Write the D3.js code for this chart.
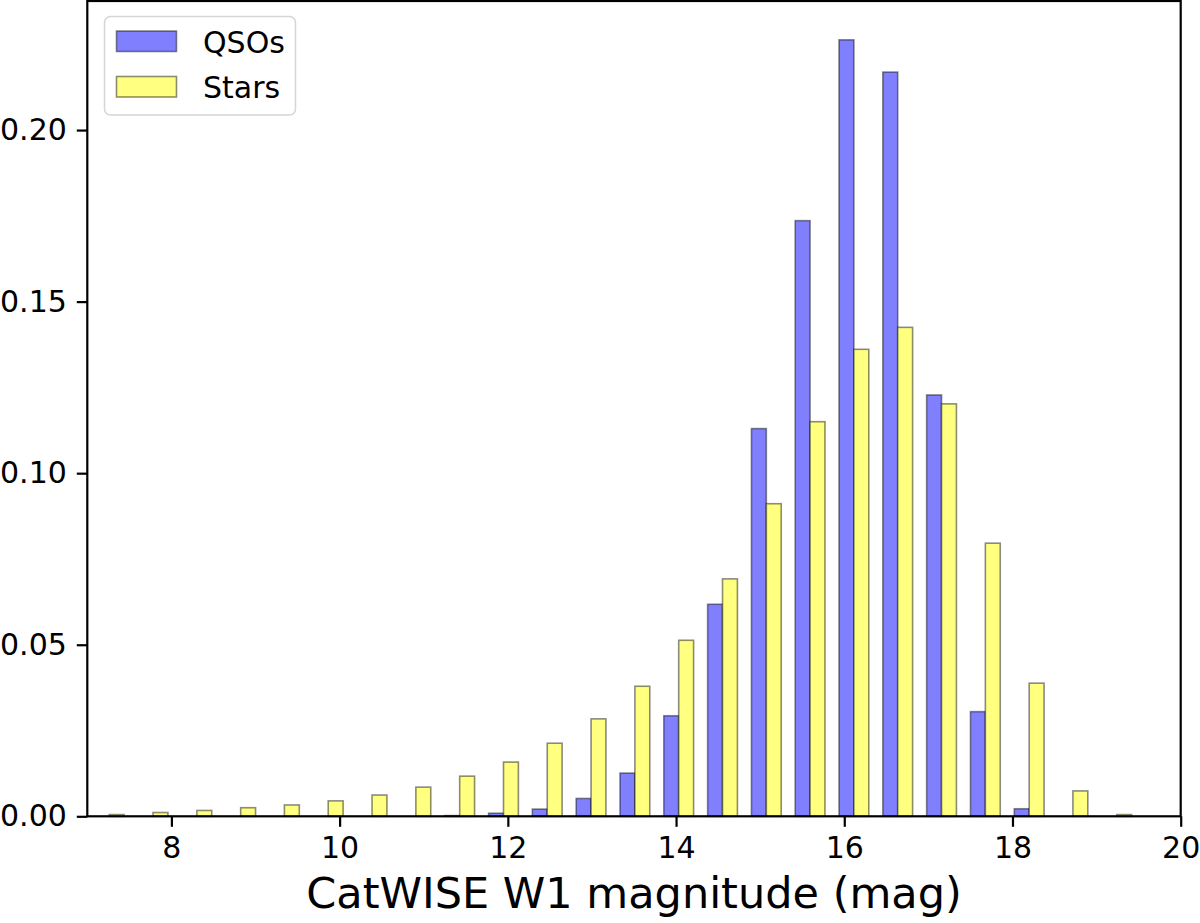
<!DOCTYPE html>
<html>
<head>
<meta charset="utf-8">
<script src="https://cdn.jsdelivr.net/npm/d3@7"></script>
<style>
  html, body { margin: 0; padding: 0; background: #fff; }
  svg { display: block; font-family: "DejaVu Sans", sans-serif; }
</style>
</head>
<body>
<svg id="chart" width="1200" height="923"></svg>
<script>
// Histogram bin left edges (mag)
const binStarts = [7.000, 7.521, 8.042, 8.563, 9.083, 9.604, 10.125, 10.646, 11.167, 11.688, 12.208, 12.729,
                   13.250, 13.771, 14.292, 14.813, 15.333, 15.854, 16.375, 16.896, 17.417, 17.938, 18.458, 18.979];
const binWidth = 0.5208;

// Normalised fractions per bin
const qsoValues = [0, 0, 0, 0, 0, 0, 0, 0, 0.0002, 0.0009, 0.0021, 0.0052,
                   0.0126, 0.0293, 0.0618, 0.1130, 0.1736, 0.2263, 0.2169, 0.1228, 0.0305, 0.0022, 0, 0];
const starValues = [0.0005, 0.0011, 0.0017, 0.0025, 0.0033, 0.0045, 0.0062, 0.0085, 0.0117, 0.0158, 0.0213, 0.0284,
                    0.0379, 0.0513, 0.0692, 0.0911, 0.1150, 0.1361, 0.1425, 0.1202, 0.0796, 0.0388, 0.0074, 0.0005];

const seriesNames = ["QSOs", "Stars"];
const xTicks = [8, 10, 12, 14, 16, 18, 20];
const yTicks = [0.00, 0.05, 0.10, 0.15, 0.20];
const xLabel = "CatWISE W1 magnitude (mag)";

const svg = d3.select("#chart");
const L = 87.3, R = 1180.7, T = 1, B = 816.3;

const x = d3.scaleLinear().domain([7, 20]).range([L, R]);
const yMax = d3.max(qsoValues.concat(starValues)) * 1.05;
const y = d3.scaleLinear().domain([0, yMax]).range([B, T]);

const fills = ["rgb(128,128,255)", "rgb(255,255,128)"];
const edge = "rgba(0,0,0,0.45)";

const bins = binStarts.map((s, i) => ({ s, q: qsoValues[i], st: starValues[i] }));

const g = svg.append("g");
// QSO bars
g.selectAll("rect.q").data(bins).join("rect")
  .attr("class", "q")
  .attr("x", d => x(d.s + 0.16 * binWidth))
  .attr("width", d => x(d.s + 0.5 * binWidth) - x(d.s + 0.16 * binWidth))
  .attr("y", d => y(d.q))
  .attr("height", d => B - y(d.q))
  .attr("fill", fills[0])
  .attr("stroke", edge).attr("stroke-width", 1.6)
  .attr("display", d => d.q > 0 ? null : "none");
// Star bars
g.selectAll("rect.s").data(bins).join("rect")
  .attr("class", "s")
  .attr("x", d => x(d.s + 0.5 * binWidth))
  .attr("width", d => x(d.s + 0.84 * binWidth) - x(d.s + 0.5 * binWidth))
  .attr("y", d => y(d.st))
  .attr("height", d => B - y(d.st))
  .attr("fill", fills[1])
  .attr("stroke", edge).attr("stroke-width", 1.6);

// Axes
const xAxis = d3.axisBottom(x).tickValues(xTicks).tickSize(10.5).tickPadding(10).tickFormat(d3.format("d"));
const yAxis = d3.axisLeft(y).tickValues(yTicks).tickSize(10.5).tickPadding(10).tickFormat(d3.format(".2f"));

const gx = svg.append("g").attr("transform", `translate(0,${B})`).call(xAxis);
const gy = svg.append("g").attr("transform", `translate(${L},0)`).call(yAxis);
[gx, gy].forEach(a => {
  a.select(".domain").remove();
  a.selectAll(".tick line").attr("stroke", "#000").attr("stroke-width", 2.2);
  a.selectAll(".tick text").attr("fill", "#000").attr("font-size", 30)
    .attr("font-family", "DejaVu Sans, sans-serif");
});

// Frame
svg.append("rect").attr("x", L).attr("y", T).attr("width", R - L).attr("height", B - T)
  .attr("fill", "none").attr("stroke", "#000").attr("stroke-width", 2.2);

// X label
svg.append("text").attr("x", (L + R) / 2).attr("y", 908).attr("text-anchor", "middle")
  .attr("font-size", 43).attr("fill", "#000").text(xLabel);

// Legend
const lg = svg.append("g");
lg.append("rect").attr("x", 104.5).attr("y", 16.5).attr("width", 191).attr("height", 98.5)
  .attr("rx", 6).attr("fill", "rgba(255,255,255,0.8)").attr("stroke", "#d5d5d5").attr("stroke-width", 1.5);
seriesNames.forEach((n, i) => {
  const yy = 31 + i * 45.5;
  lg.append("rect").attr("x", 116.5).attr("y", yy).attr("width", 60).attr("height", 20.5)
    .attr("fill", fills[i]).attr("stroke", edge).attr("stroke-width", 1.6);
  lg.append("text").attr("x", 203).attr("y", yy + 21.5).attr("font-size", 30).attr("fill", "#000").text(n);
});
</script>
</body>
</html>
